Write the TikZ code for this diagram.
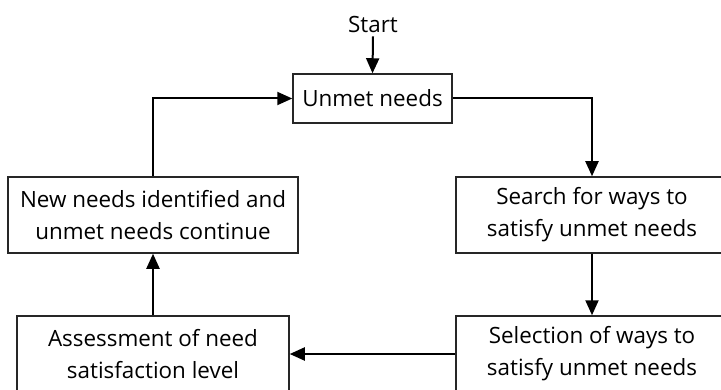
\documentclass[tikz,border=0pt]{standalone}
\usepackage{fontspec}
\setmainfont{Open Sans}
\usetikzlibrary{arrows.meta}
\begin{document}
\begin{tikzpicture}[x=1pt,y=1pt,
  box/.style={draw=black!85, line width=1.5pt, inner sep=0pt, align=center,
    font=\fontsize{22.4}{32}\selectfont},
  flow/.style={line width=2pt, -{Triangle[length=15pt,width=13pt]}},
  label/.style={inner sep=0pt, font=\fontsize{22.4}{32}\selectfont}]
\useasboundingbox (0,0) rectangle (721,389);
\clip (0,0) rectangle (721,389);
\node[label] (start) at (373,364) {Start};
\node[box, minimum width=159pt, minimum height=49pt] (unmet) at (372.5,290.5) {Unmet needs};
\node[box, minimum width=290pt, minimum height=76pt] (newneeds) at (153,174) {New needs identified and\\unmet needs continue};
\node[box, minimum width=272pt, minimum height=76pt] (search) at (592,174) {Search for ways to\\satisfy unmet needs};
\node[box, minimum width=272pt, minimum height=76pt] (select) at (592,35) {Selection of ways to\\satisfy unmet needs};
\node[box, minimum width=272pt, minimum height=76pt] (assess) at (153,35) {Assessment of need\\satisfaction level};
\draw[flow] (start.south) ++(0,-3pt) -- (unmet.north);
\draw[flow] (unmet.east) -| (search.north);
\draw[flow] (search.south) -- (select.north);
\draw[flow] (select.west) -- (assess.east);
\draw[flow] (assess.north) -- (newneeds.south);
\draw[flow] (newneeds.north) |- (unmet.west);
\end{tikzpicture}
\end{document}
